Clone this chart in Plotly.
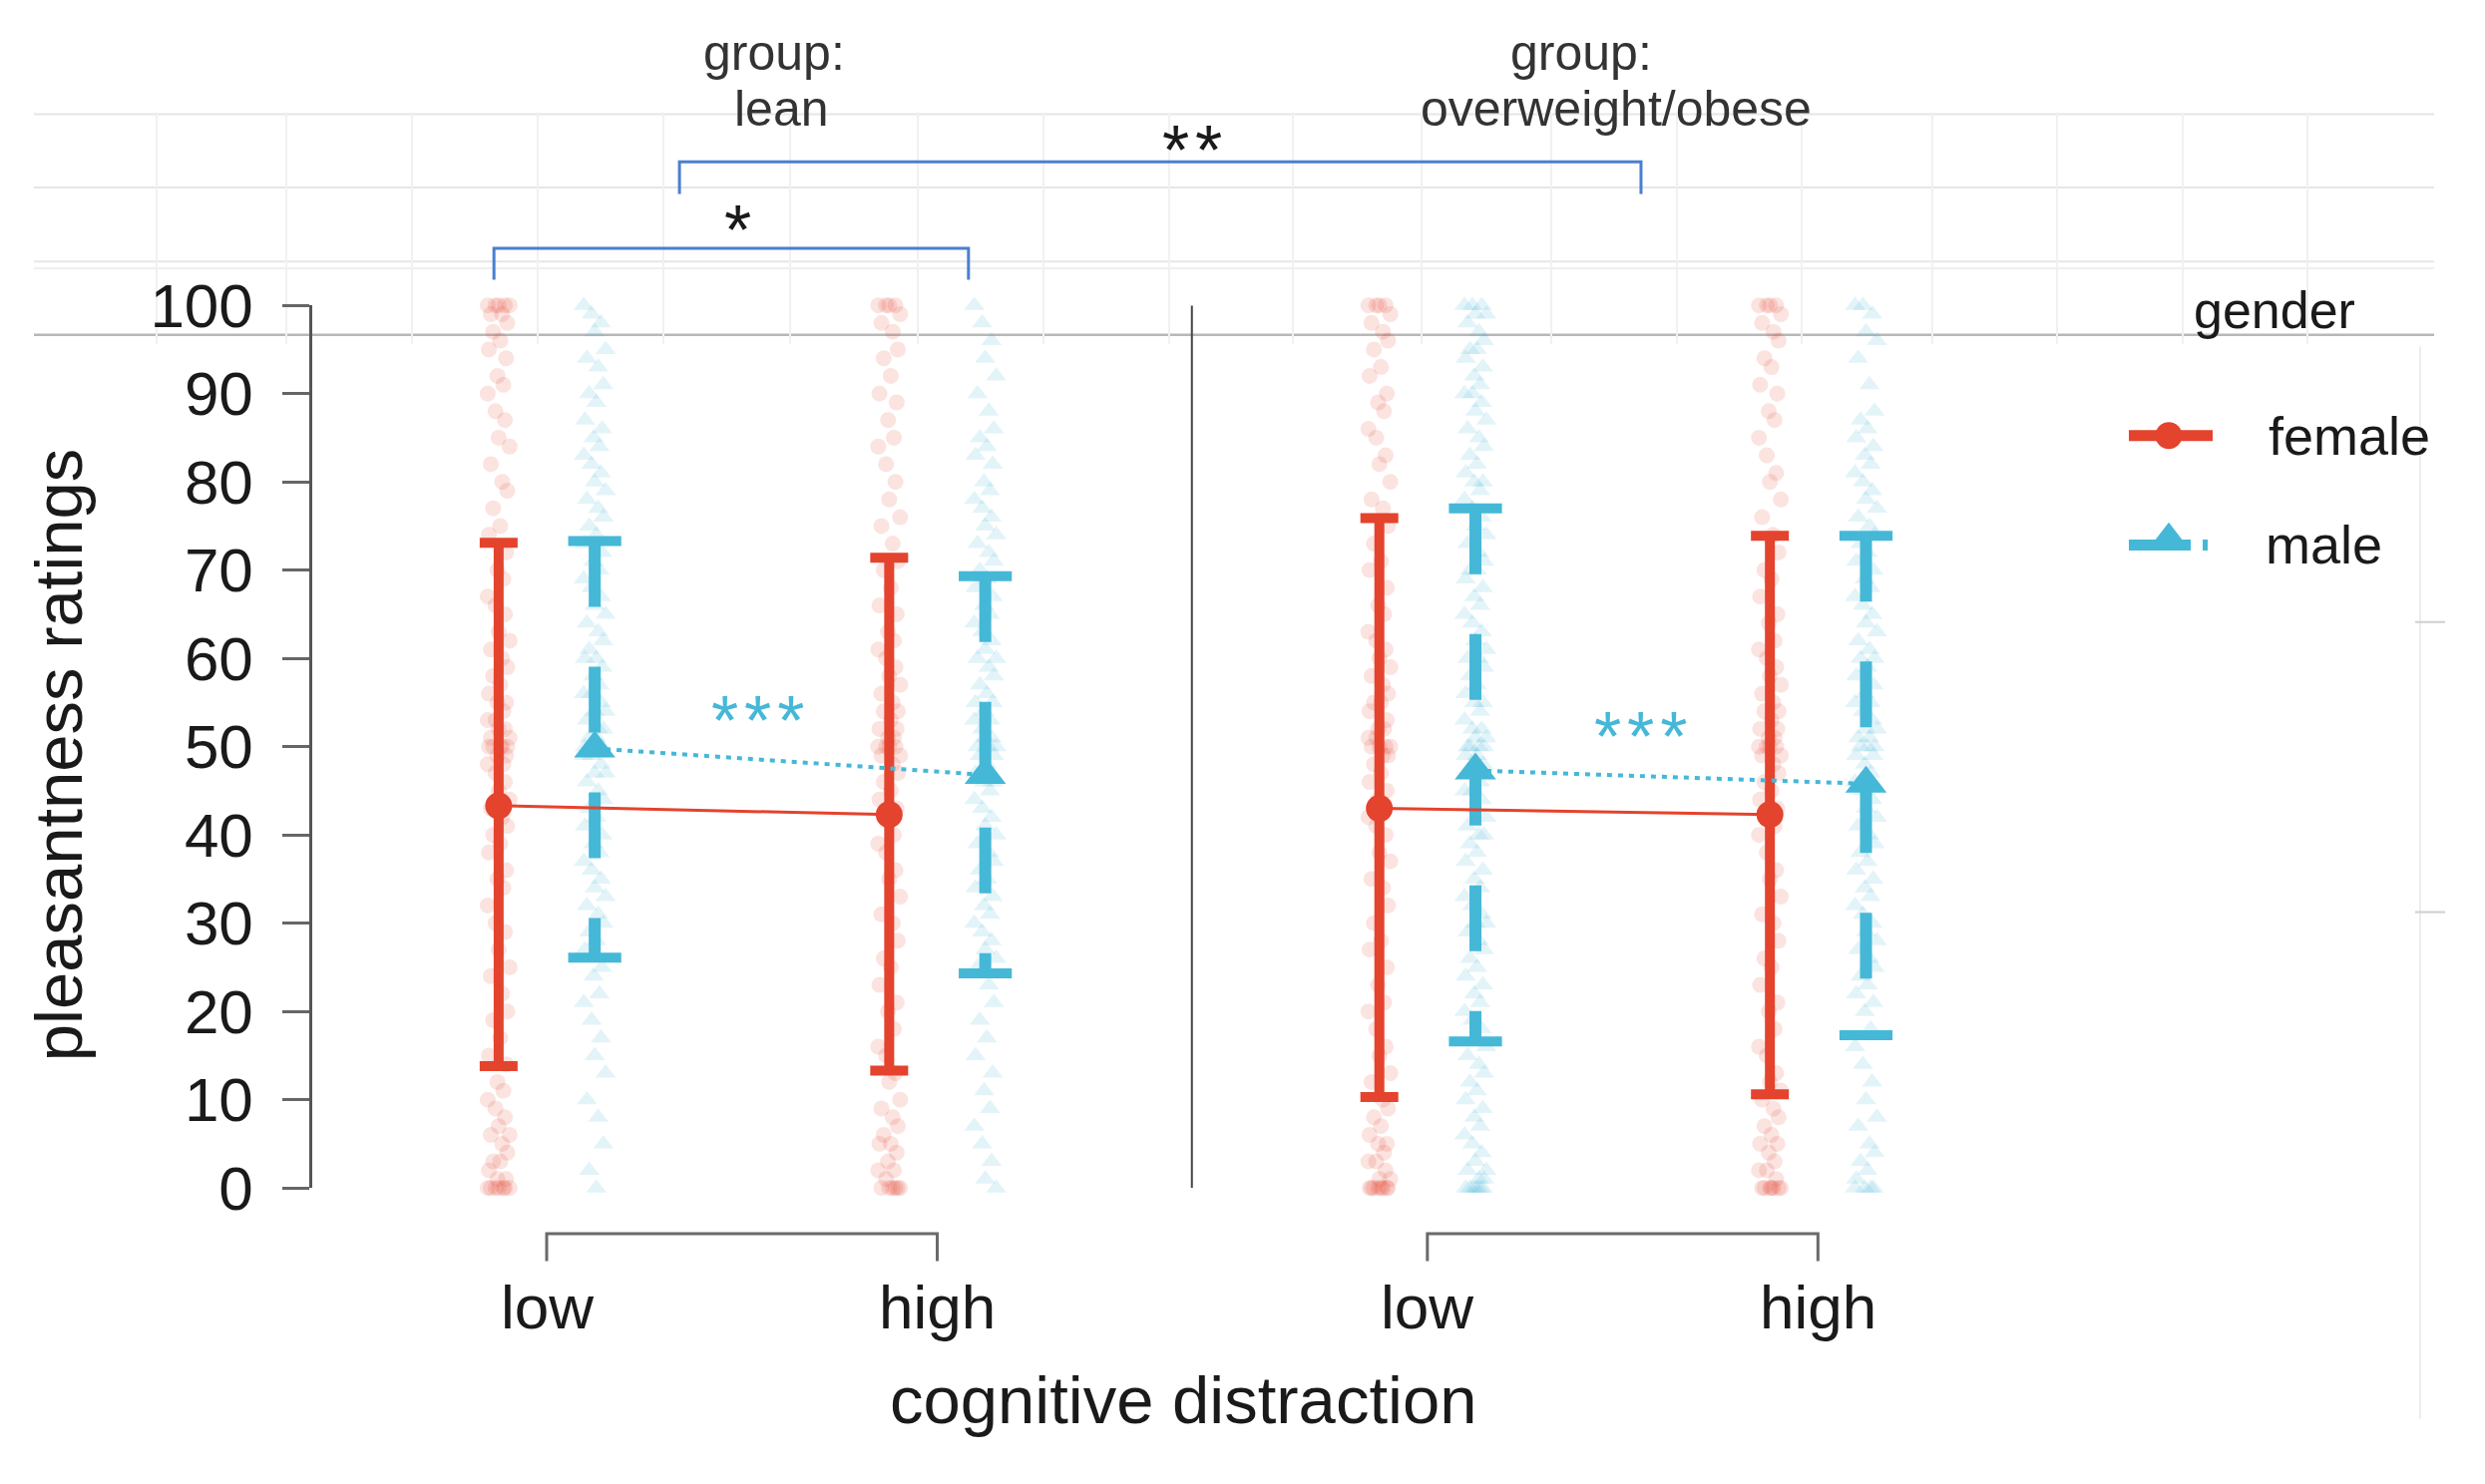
import plotly.graph_objects as go

W, H = 2491, 1488

# ---------------- data ----------------
groups = ["lean", "overweight/obese"]
distraction = ["low", "high"]
genders = ["female", "male"]

# category centres on the numeric x axis, and gender dodge
cat_pos = {"lean": [0.0, 1.0], "overweight/obese": [2.255, 3.255]}
gender_offset = {"female": -0.123, "male": 0.123}

female_mean = {"lean": [43.3, 42.3], "overweight/obese": [43.0, 42.3]}
female_lo = {"lean": [13.8, 13.3], "overweight/obese": [10.3, 10.6]}
female_hi = {"lean": [73.1, 71.4], "overweight/obese": [75.9, 73.9]}

male_mean = {"lean": [49.8, 46.8], "overweight/obese": [47.3, 45.8]}
male_lo = {"lean": [26.1, 24.3], "overweight/obese": [16.6, 17.3]}
male_hi = {"lean": [73.3, 69.3], "overweight/obese": [77.0, 73.9]}

# raw ratings
lean_low_female = [100, 100, 100, 100, 100, 99, 99, 98, 97, 96, 95, 94, 92, 91, 90, 88, 87, 85, 84, 82, 80, 79, 77, 75,
                   74, 72, 70, 69, 67, 66, 65, 63, 62, 61, 60, 59, 58, 57, 56, 55, 55, 54, 53, 53, 52, 52, 51, 51, 50,
                   50, 50, 50, 50, 49, 49, 48, 48, 47, 46, 45, 44, 43, 42, 41, 40, 39, 38, 36, 35, 34, 32, 30, 29, 27,
                   25, 24, 22, 20, 19, 17, 15, 14, 12, 11, 10, 9, 8, 7, 6, 6, 5, 4, 3, 3, 2, 1, 1, 0, 0, 0, 0, 0, 0, 0]
lean_low_male = [100, 99, 98, 97, 95, 94, 93, 91, 90, 89, 87, 86, 85, 84, 83, 82, 81, 80, 79, 78, 77, 76, 75, 74, 73,
                 72, 71, 70, 69, 68, 67, 66, 65, 64, 63, 62, 61, 60, 60, 59, 58, 57, 56, 56, 55, 54, 54, 53, 52, 52, 51,
                 51, 50, 50, 50, 50, 49, 49, 48, 47, 47, 46, 45, 44, 43, 42, 41, 40, 39, 38, 37, 36, 35, 34, 33, 32, 31,
                 30, 29, 28, 27, 25, 24, 22, 21, 19, 17, 15, 13, 10, 8, 5, 2, 0]
lean_high_female = [100, 100, 100, 100, 99, 98, 97, 95, 94, 92, 90, 89, 87, 85, 84, 82, 80, 78, 76, 75, 73, 71, 70, 68,
                    66, 65, 63, 62, 61, 60, 59, 58, 57, 56, 55, 54, 54, 53, 52, 52, 51, 51, 50, 50, 50, 50, 49, 49, 48,
                    47, 46, 45, 44, 43, 42, 40, 39, 38, 36, 35, 33, 31, 30, 28, 26, 25, 23, 21, 20, 18, 16, 15, 13, 12,
                    10, 9, 8, 7, 6, 5, 5, 4, 3, 2, 2, 1, 0, 0, 0, 0, 0, 0]
lean_high_male = [100, 98, 96, 94, 92, 90, 88, 86, 85, 84, 83, 82, 80, 79, 78, 77, 76, 75, 74, 73, 72, 71, 70, 69, 68,
                  67, 66, 65, 64, 63, 62, 61, 60, 60, 59, 58, 57, 56, 55, 55, 54, 53, 53, 52, 51, 51, 50, 50, 50, 49,
                  49, 48, 47, 46, 46, 45, 44, 43, 42, 41, 40, 39, 38, 37, 36, 35, 34, 33, 32, 31, 30, 29, 28, 27, 26,
                  25, 23, 21, 19, 17, 15, 13, 11, 9, 7, 5, 3, 1, 0]
ow_low_female = [100, 100, 100, 100, 99, 98, 97, 96, 95, 93, 92, 90, 89, 88, 86, 85, 83, 82, 80, 78, 77, 75, 73, 71, 70,
                 68, 66, 65, 63, 62, 61, 60, 59, 58, 57, 56, 55, 55, 54, 53, 52, 52, 51, 51, 50, 50, 50, 50, 49, 49, 48,
                 47, 46, 45, 44, 43, 42, 41, 40, 38, 37, 35, 34, 32, 30, 28, 27, 25, 23, 21, 20, 18, 16, 15, 13, 12, 10,
                 9, 8, 7, 6, 5, 5, 4, 3, 3, 2, 1, 1, 0, 0, 0, 0, 0, 0, 0, 0]
ow_low_male = [100, 100, 100, 99, 99, 98, 97, 96, 95, 95, 94, 93, 92, 91, 90, 90, 89, 88, 87, 86, 85, 84, 83, 82, 81,
               80, 80, 79, 78, 77, 76, 75, 74, 73, 72, 71, 70, 70, 69, 68, 67, 66, 65, 64, 63, 62, 61, 60, 60, 59, 58,
               57, 56, 55, 55, 54, 53, 52, 52, 51, 51, 50, 50, 50, 50, 49, 49, 48, 47, 46, 45, 45, 44, 43, 42, 41, 40,
               40, 39, 38, 37, 36, 35, 34, 33, 32, 31, 30, 30, 29, 28, 27, 26, 25, 24, 23, 22, 21, 20, 19, 18, 17, 16,
               15, 14, 13, 12, 11, 10, 9, 8, 7, 6, 5, 4, 3, 2, 2, 1, 1, 0, 0, 0, 0, 0, 0]
ow_high_female = [100, 100, 100, 100, 99, 98, 97, 96, 94, 93, 91, 90, 88, 87, 85, 83, 81, 80, 78, 76, 74, 72, 70, 69,
                  67, 65, 64, 62, 61, 60, 59, 58, 57, 56, 55, 54, 54, 53, 52, 52, 51, 51, 50, 50, 50, 50, 49, 49, 48,
                  47, 46, 45, 44, 43, 42, 41, 40, 38, 36, 35, 33, 31, 30, 28, 26, 25, 23, 21, 20, 18, 16, 15, 13, 12,
                  11, 10, 9, 8, 7, 6, 5, 5, 4, 3, 2, 2, 1, 0, 0, 0, 0, 0, 0, 0]
ow_high_male = [100, 100, 99, 97, 96, 94, 91, 88, 87, 86, 85, 84, 83, 82, 81, 80, 79, 78, 77, 76, 75, 74, 73, 72, 71,
                70, 69, 68, 67, 66, 65, 64, 63, 62, 61, 60, 60, 59, 58, 57, 56, 55, 55, 54, 53, 52, 52, 51, 51, 50, 50,
                50, 49, 49, 48, 47, 46, 45, 44, 43, 42, 41, 40, 39, 38, 37, 36, 35, 34, 33, 32, 31, 30, 29, 28, 27, 26,
                25, 24, 23, 22, 21, 20, 18, 16, 14, 12, 10, 8, 7, 5, 4, 3, 2, 1, 0, 0, 0, 0]

raw = {
    ("lean", 0, "female"): lean_low_female, ("lean", 0, "male"): lean_low_male,
    ("lean", 1, "female"): lean_high_female, ("lean", 1, "male"): lean_high_male,
    ("overweight/obese", 0, "female"): ow_low_female, ("overweight/obese", 0, "male"): ow_low_male,
    ("overweight/obese", 1, "female"): ow_high_female, ("overweight/obese", 1, "male"): ow_high_male,
}

y_ticks = list(range(0, 101, 10))
divider_x = 1.652
stars_gender = {"lean": (0.54, 53.5), "overweight/obese": (2.802, 51.7)}

# ---------------- style ----------------
RED = "#E4432D"
CYAN = "#45B8D7"
BLUE = "#4A7FD0"
FONT = "Liberation Sans, Arial, sans-serif"
TXT = "#1a1a1a"
jit = [-0.028, -0.008, 0.016, 0.0, 0.028, -0.02, 0.009, 0.022, -0.014, 0.004, -0.025, 0.019, -0.003, 0.012]

fig = go.Figure()

# raw jittered points
for (g, d, s), vals in raw.items():
    x0 = cat_pos[g][d] + gender_offset[s]
    xs = [x0 + jit[i % len(jit)] for i in range(len(vals))]
    fig.add_trace(go.Scatter(
        x=xs, y=vals, mode="markers", showlegend=False, hoverinfo="skip",
        cliponaxis=False,
        marker=dict(symbol="circle" if s == "female" else "triangle-up",
                    size=16 if s == "female" else 18,
                    color=RED if s == "female" else CYAN,
                    opacity=0.15, line=dict(width=0)),
    ))

# male dashed error bars (stems + caps)
for g in groups:
    xs, ys, cx, cy = [], [], [], []
    for d in range(2):
        x0 = cat_pos[g][d] + gender_offset["male"]
        xs += [x0, x0, None]
        ys += [male_hi[g][d], male_lo[g][d], None]
        cx += [x0, x0]
        cy += [male_hi[g][d], male_lo[g][d]]
    fig.add_trace(go.Scatter(x=xs, y=ys, mode="lines", showlegend=False, hoverinfo="skip",
                             line=dict(color=CYAN, width=12, dash="66px,60px")))
    fig.add_trace(go.Scatter(x=cx, y=cy, mode="markers", showlegend=False, hoverinfo="skip",
                             cliponaxis=False,
                             marker=dict(symbol="line-ew", size=38, line=dict(color=CYAN, width=10))))

# female means with error bars
for g in groups:
    xs = [cat_pos[g][d] + gender_offset["female"] for d in range(2)]
    fig.add_trace(go.Scatter(
        x=xs, y=female_mean[g], mode="lines+markers", showlegend=False, cliponaxis=False,
        line=dict(color=RED, width=3),
        marker=dict(symbol="circle", size=27, color=RED),
        error_y=dict(type="data", symmetric=False,
                     array=[female_hi[g][d] - female_mean[g][d] for d in range(2)],
                     arrayminus=[female_mean[g][d] - female_lo[g][d] for d in range(2)],
                     color=RED, thickness=10, width=19),
    ))

# male means
for g in groups:
    xs = [cat_pos[g][d] + gender_offset["male"] for d in range(2)]
    fig.add_trace(go.Scatter(
        x=xs, y=male_mean[g], mode="lines+markers", showlegend=False, cliponaxis=False,
        line=dict(color=CYAN, width=4, dash="5px,6px"),
        marker=dict(symbol="triangle-up", size=36, color=CYAN),
    ))

# ---------------- custom legend (pixel overlay axes) ----------------
LF_Y, LM_Y = 414, 529
fig.add_trace(go.Scatter(x=[2126, 2210], y=[LF_Y, LF_Y], xaxis="x2", yaxis="y2", mode="lines",
                         line=dict(color=RED, width=11), showlegend=False, hoverinfo="skip"))
fig.add_trace(go.Scatter(x=[2166], y=[LF_Y], xaxis="x2", yaxis="y2", mode="markers",
                         marker=dict(symbol="circle", size=27, color=RED), showlegend=False, hoverinfo="skip"))
fig.add_trace(go.Scatter(x=[2126, 2212], y=[LM_Y, LM_Y], xaxis="x2", yaxis="y2", mode="lines",
                         line=dict(color=CYAN, width=11, dash="62px,12px,5px,40px"), showlegend=False,
                         hoverinfo="skip"))
fig.add_trace(go.Scatter(x=[2166], y=[LM_Y - 5], xaxis="x2", yaxis="y2", mode="markers",
                         marker=dict(symbol="triangle-up", size=36, color=CYAN), showlegend=False,
                         hoverinfo="skip"))

# ---------------- shapes ----------------
def py(v):
    return 1 - v / H


def px(v):
    return v / W


shapes = []
# faint spreadsheet-like grid at the top
for yy, col in [(76, "#e6e6e6"), (153, "#e6e6e6"), (231, "#e6e6e6"), (238, "#efefef"), (308, "#b8b8b8")]:
    shapes.append(dict(type="line", xref="paper", yref="paper", x0=px(26), x1=px(2432), y0=py(yy), y1=py(yy),
                       line=dict(color=col, width=2.5 if yy == 308 else 2), layer="below"))
for xx in [149, 279, 405, 531, 657, 784, 912, 1038, 1164, 1288, 1417, 1547, 1673, 1798, 1929, 2054, 2180, 2305]:
    shapes.append(dict(type="line", xref="paper", yref="paper", x0=px(xx), x1=px(xx), y0=py(74), y1=py(318),
                       line=dict(color="#f1f1f1", width=2), layer="below"))
shapes.append(dict(type="line", xref="paper", yref="paper", x0=px(2418), x1=px(2418), y0=py(320), y1=py(1448),
                   line=dict(color="#ededed", width=2), layer="below"))
for yy in [610, 915]:
    shapes.append(dict(type="line", xref="paper", yref="paper", x0=px(2413), x1=px(2443), y0=py(yy), y1=py(yy),
                       line=dict(color="#cfcfcf", width=2), layer="below"))

# panel divider
shapes.append(dict(type="line", xref="x", yref="y", x0=divider_x, x1=divider_x, y0=0, y1=100,
                   line=dict(color="#444444", width=2)))

# x-axis category brackets
for g in groups:
    a, b = cat_pos[g]
    shapes.append(dict(type="path", xref="x", yref="paper",
                       path=f"M {a},{py(1282)} L {a},{py(1253)} L {b},{py(1253)} L {b},{py(1282)}",
                       line=dict(color="#6a6a6a", width=3)))

# significance brackets
shapes.append(dict(type="path", xref="x", yref="paper",
                   path=f"M -0.135,{py(250)} L -0.135,{py(217)} L 1.080,{py(217)} L 1.080,{py(250)}",
                   line=dict(color=BLUE, width=3)))
shapes.append(dict(type="path", xref="x", yref="paper",
                   path=f"M 0.340,{py(160)} L 0.340,{py(126)} L 2.802,{py(126)} L 2.802,{py(160)}",
                   line=dict(color=BLUE, width=3)))

# ---------------- annotations ----------------
ann = []
for g in groups:
    for d in range(2):
        ann.append(dict(x=cat_pos[g][d], y=py(1330), xref="x", yref="paper", text=distraction[d],
                        showarrow=False, font=dict(size=62, family=FONT, color=TXT), yanchor="middle"))
ann.append(dict(x=px(1178), y=py(1428), xref="paper", yref="paper", text="cognitive distraction",
                showarrow=False, font=dict(size=67, family=FONT, color=TXT), yanchor="middle"))
ann.append(dict(x=px(50), y=py(750), xref="paper", yref="paper", text="pleasantness ratings", textangle=-90,
                showarrow=False, font=dict(size=67, family=FONT, color=TXT), xanchor="center", yanchor="middle"))
# group strip labels
for txt, x, y in [("group:", 695, 12), ("lean", 726, 70), ("group:", 1577, 12), ("overweight/obese", 1612, 70)]:
    ann.append(dict(x=px(x), y=py(y), xref="paper", yref="paper", text=txt, showarrow=False,
                    font=dict(size=50, family=FONT, color="#333333"), yanchor="middle"))
# significance stars
ann.append(dict(x=0.49, y=py(198), xref="x", yref="paper", text="*", showarrow=False,
                font=dict(size=70, family=FONT, color=TXT), yanchor="middle"))
ann.append(dict(x=divider_x, y=py(114), xref="x", yref="paper", text="*\u200a*", showarrow=False,
                font=dict(size=70, family=FONT, color=TXT), yanchor="middle"))
for g in groups:
    sx, sy = stars_gender[g]
    ann.append(dict(x=sx, y=sy - 0.6, xref="x", yref="y", text="*\u200a*\u200a*", showarrow=False,
                    font=dict(size=70, family=FONT, color=CYAN), yanchor="middle"))
# legend texts
ann.append(dict(x=px(2355), y=py(282), xref="paper", yref="paper", text="gender", showarrow=False,
                font=dict(size=52, family=FONT, color=TXT), yanchor="middle"))
ann.append(dict(x=px(2264), y=py(LF_Y), xref="paper", yref="paper", text="female", showarrow=False,
                font=dict(size=54, family=FONT, color=TXT), xanchor="left", yanchor="middle"))
ann.append(dict(x=px(2261), y=py(LM_Y), xref="paper", yref="paper", text="male", showarrow=False,
                font=dict(size=54, family=FONT, color=TXT), xanchor="left", yanchor="middle"))

x_px0, x_px1 = 305, 2000
unit = 391.5
x_origin = 540.0

fig.update_layout(
    width=W, height=H,
    margin=dict(l=0, r=0, t=0, b=0),
    paper_bgcolor="white", plot_bgcolor="rgba(0,0,0,0)",
    showlegend=False,
    shapes=shapes, annotations=ann,
    xaxis=dict(domain=[px(x_px0), px(x_px1)],
               range=[(x_px0 - x_origin) / unit, (x_px1 - x_origin) / unit],
               visible=False, fixedrange=True),
    yaxis=dict(domain=[py(1205), py(277)], range=[0, 100],
               tickvals=y_ticks, ticktext=[str(t) for t in y_ticks],
               showline=True, linecolor="#555555", linewidth=2.5,
               ticks="outside", ticklen=27, tickwidth=2.5, tickcolor="#666666",
               ticklabelstandoff=17,
               tickfont=dict(size=62, family=FONT, color=TXT),
               showgrid=False, zeroline=False, fixedrange=True),
    xaxis2=dict(domain=[0, 1], range=[0, W], visible=False, anchor="y2", fixedrange=True),
    yaxis2=dict(domain=[0, 1], range=[H, 0], visible=False, anchor="x2", fixedrange=True),
)

fig.write_html("out.html")
